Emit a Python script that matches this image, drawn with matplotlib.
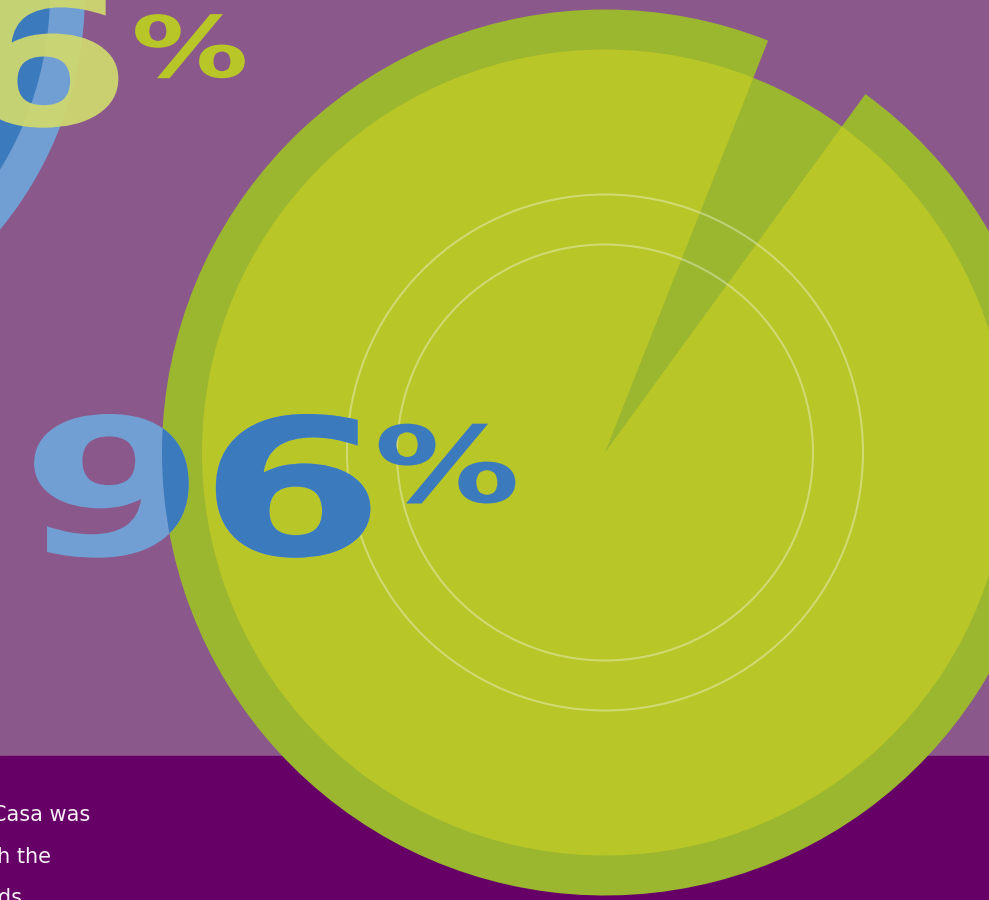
import matplotlib
matplotlib.use("Agg")
import matplotlib.pyplot as plt
from matplotlib.patches import Circle, Rectangle
from matplotlib.patheffects import AbstractPathEffect
from matplotlib.transforms import Affine2D

# data
main_values = [96, 4]          # share shown in the big ring, rest is the gap
main_label = ["9", "6", "%"]
prev_values = [100]            # neighbour chart, only its edge is visible
prev_label = ["6", "%"]
guide_rings = [258, 208]       # faint reference circles (px radius)
body_lines = ["Casa was", "with the", "needs"]

PURPLE = "#8b588b"
BAND = "#660066"
DARK_GREEN = "#9bb72f"
LIGHT_GREEN = "#b8c627"
DARK_BLUE = "#3a7abd"
LIGHT_BLUE = "#729fd3"
PALE_YELLOW = "#d0da6e"

W, H = 989, 900


class Stretch(AbstractPathEffect):
    """widen glyphs horizontally around a data x, the web font is an extended face"""
    def __init__(self, sx, x0, ax):
        super().__init__()
        self.sx, self.x0, self.ax = sx, x0, ax

    def draw_path(self, renderer, gc, tpath, affine, rgbFace=None):
        x0 = self.ax.transData.transform((self.x0, 0))[0]
        affine = affine + Affine2D().translate(-x0, 0).scale(self.sx, 1).translate(x0, 0)
        renderer.draw_path(gc, tpath, affine, rgbFace)


fig = plt.figure(figsize=(W / 100, H / 100), dpi=100, facecolor=PURPLE)
ax = fig.add_axes([0, 0, 1, 1])
ax.set_facecolor(PURPLE)

# dark footer band
ax.add_patch(Rectangle((0, 0), W, H - 756, color=BAND, zorder=0))

# neighbour (blue) chart peeking in from the top left
ax.pie(prev_values, radius=372, center=(-287, H + 7), colors=[LIGHT_BLUE],
       wedgeprops=dict(linewidth=0, zorder=1))
ax.pie(prev_values, radius=337, center=(-287, H + 7), colors=[DARK_BLUE],
       wedgeprops=dict(linewidth=0, zorder=1))

# main ring chart
cx, cy = 605, H - 452.5
ax.pie(main_values, radius=443, center=(cx, cy), startangle=68.4, counterclock=True,
       colors=[DARK_GREEN, "none"], wedgeprops=dict(linewidth=0, zorder=3))
ax.add_patch(Circle((cx, cy), 403, color=DARK_GREEN, lw=0, zorder=3))
ax.pie(main_values, radius=403, center=(cx, cy), startangle=68.4, counterclock=True,
       colors=[LIGHT_GREEN, "none"], wedgeprops=dict(linewidth=0, zorder=3.5))
for r in guide_rings:
    ax.add_patch(Circle((cx, cy), r, fill=False, ec="white", alpha=0.35, lw=1.5, zorder=4))

# top-left number of the neighbour chart
ax.text(40, H - 125, prev_label[0], fontsize=137, fontweight="bold", color=PALE_YELLOW,
        alpha=0.93, ha="center", va="baseline", zorder=2,
        path_effects=[Stretch(1.4, 40, ax)])
ax.text(190, H - 77, prev_label[1], fontsize=61, fontweight="bold", color=LIGHT_GREEN,
        ha="center", va="baseline", zorder=2,
        path_effects=[Stretch(1.38, 190, ax)])

# big 96% : lighter where it sits on the purple, solid blue on the ring
clip = Circle((cx, cy), 443, transform=ax.transData)
for x, ch in zip([113, 292], main_label[:2]):
    ax.text(x, H - 555, ch, fontsize=137, fontweight="bold", color=LIGHT_BLUE,
            ha="center", va="baseline", zorder=5,
            path_effects=[Stretch(1.4, x, ax)])
    t = ax.text(x, H - 555, ch, fontsize=137, fontweight="bold", color=DARK_BLUE,
                ha="center", va="baseline", zorder=5.5,
                path_effects=[Stretch(1.4, x, ax)])
    t.set_clip_path(clip)
    t.set_clip_on(True)
ax.text(447, H - 502, main_label[2], fontsize=76, fontweight="bold", color=DARK_BLUE,
        ha="center", va="baseline", zorder=6,
        path_effects=[Stretch(1.38, 447, ax)])

# body copy, cut by the left edge
for x, y, s in zip([90, 51, 22], [821, 863, 904], body_lines):
    ax.text(x, H - y, s, fontsize=15, color="white", alpha=0.95,
            ha="right", va="baseline", zorder=2)

ax.set_xlim(0, W)
ax.set_ylim(0, H)
ax.set_aspect("auto")
ax.axis("off")

fig.savefig("out.png", dpi=100, facecolor=PURPLE)
